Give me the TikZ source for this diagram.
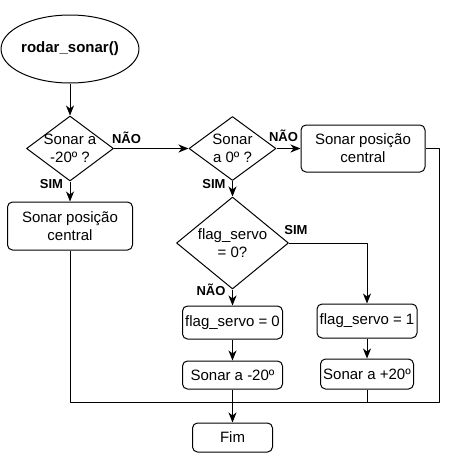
\documentclass[tikz,border=0pt]{standalone}
\usepackage{fontspec}
\setmainfont{Liberation Sans}
\usetikzlibrary{shapes.geometric, arrows.meta}

\begin{document}
\begin{tikzpicture}[x=1pt, y=-1pt, line join=round, line width=1pt, >={Stealth[length=10pt, width=8pt, inset=3pt]}]

		\tikzset{texto/.style={font=\fontsize{15}{18}\selectfont, align=center, inner sep=0pt},
			caixa/.style={texto, draw, rounded corners=5pt},
			decisao/.style={draw, diamond, inner sep=0pt},
			rotulo/.style={font=\fontsize{13}{15}\selectfont\bfseries, inner sep=0pt}}

		\useasboundingbox (0,0) rectangle (448,461);

		% inicio e primeira decisao
		\node[draw, ellipse, minimum width=125pt, minimum height=68pt, inner sep=0pt, font=\fontsize{15}{18}\selectfont\bfseries] (inicio) at (70,49) {rodar\_sonar()};
		\node[decisao, minimum width=87pt, minimum height=65pt, label={[texto]center:Sonar a\\-20º ?}] (d1) at (70,148.5) {};
		\node[caixa, minimum width=125pt, minimum height=48pt] (caixa1) at (70,226) {Sonar posição\\central};

		% segunda decisao
		\node[decisao, minimum width=87pt, minimum height=64pt, label={[texto]center:Sonar\\a 0º ?}] (d2) at (232.5,148.5) {};
		\node[caixa, minimum width=124pt, minimum height=47pt] (caixa2) at (363,148.5) {Sonar posição\\central};
		\node[decisao, minimum width=112pt, minimum height=92pt, label={[texto]center:flag\_servo\\= 0?}] (d3) at (232.5,243) {};

		% ramos do servo
		\node[caixa, minimum width=100pt, minimum height=33pt] (flag0) at (232.5,322.5) {flag\_servo = 0};
		\node[caixa, minimum width=100pt, minimum height=34pt] (flag1) at (367,321) {flag\_servo = 1};
		\node[caixa, minimum width=100pt, minimum height=28pt] (menos20) at (232.5,375) {Sonar a -20º};
		\node[caixa, minimum width=93pt, minimum height=30pt] (mais20) at (367,374) {Sonar a +20º};
		\node[caixa, minimum width=80pt, minimum height=29pt] (fim) at (232.5,437.5) {Fim};

		\coordinate (cantoDir) at (439,402);

		\draw[->] (inicio) -- (d1);
		\draw[->] (d1) -- (d2);
		\draw[->] (d1) -- (caixa1);
		\draw[->] (d2) -- (caixa2);
		\draw[->] (d2) -- (d3);
		\draw[->] (d3.east) -| (flag1.north);
		\draw[->] (d3) -- (flag0);
		\draw[->] (flag0) -- (menos20);
		\draw[->] (flag1) -- (mais20);
		\draw[->] (menos20) -- (fim);
		\draw (caixa1.south) |- (cantoDir) |- (caixa2.east);
		\draw (mais20.south) -- (mais20.south |- cantoDir);

		% rotulos
		\node[rotulo] (simA) at (51.5,184) {SIM};
		\node[rotulo] (naoA) at (126.5,137.5) {NÃO};
		\node[rotulo] (simB) at (214,184) {SIM};
		\node[rotulo] (naoB) at (283.5,136) {NÃO};
		\node[rotulo] (simC) at (296,230) {SIM};
		\node[rotulo] (naoC) at (211,290) {NÃO};
		\end{tikzpicture}
\end{document}
